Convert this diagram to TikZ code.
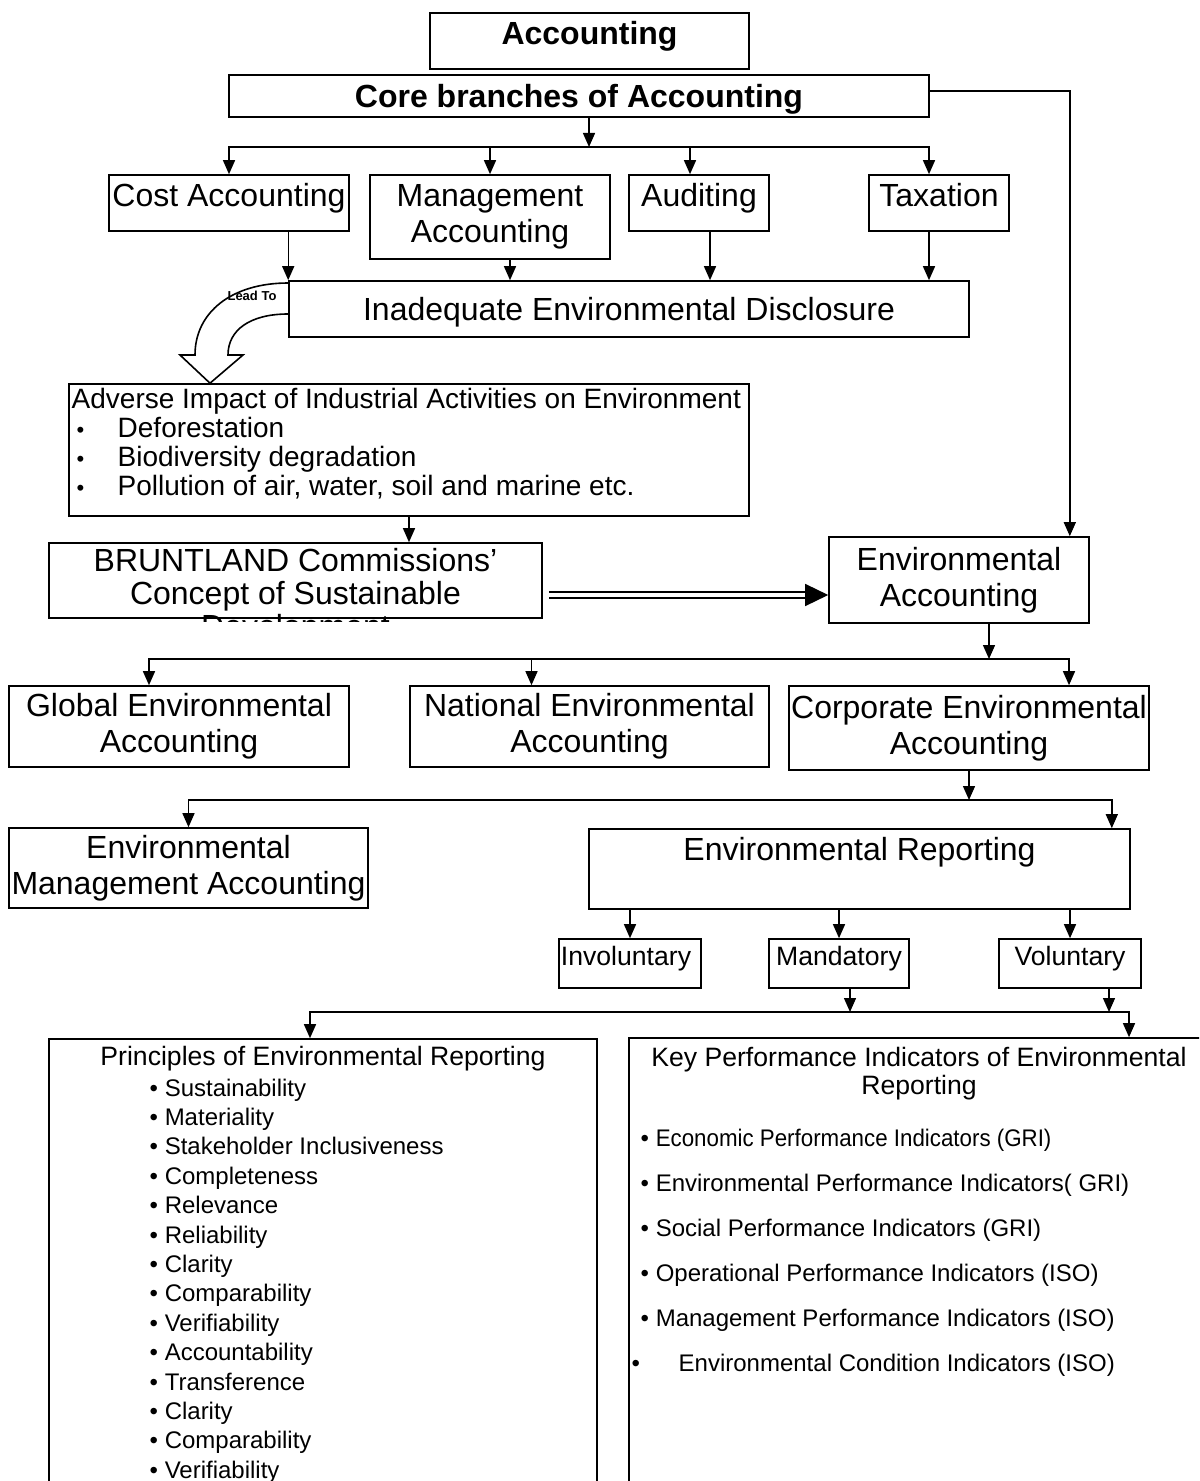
\documentclass[tikz,border=0pt]{standalone}
\usepackage{fontspec}
\setmainfont{Liberation Sans}
\usepackage{graphicx}
\usetikzlibrary{arrows.meta}

\begin{document}
\begin{tikzpicture}[x=0.5pt, y=-0.5pt, line width=0.7pt,
    box/.style={draw, line width=0.8pt, inner sep=1pt},
    big/.style={font=\fontsize{16}{18}\selectfont},
    bigb/.style={font=\bfseries\fontsize{16}{18}\selectfont},
    mid/.style={font=\fontsize{13.3}{14}\selectfont},
    arr/.style={-{Triangle[length=7pt,width=6pt]}}]
    \useasboundingbox (0,0) rectangle (1199,1481);
    \clip (0,0) rectangle (1199,1481);

    % top of the chart
    \node[box, bigb, minimum width=159.5pt, minimum height=28pt, text height=11.5pt, text depth=8pt] (acc) at (589.5,41) {Accounting};
    \node[box, bigb, minimum width=350pt, minimum height=21pt, text height=11.5pt, text depth=0pt] (core) at (579,96) {Core branches of Accounting};

    % core branches
    \node[box, big, minimum width=120pt, minimum height=28pt, text height=11.5pt, text depth=7.5pt] (cost) at (229,203) {Cost Accounting};
    \node[box, big, align=center, minimum width=120pt, minimum height=42pt] (mgmt) at (490,217) {Management\\Accounting};
    \node[box, big, minimum width=70pt, minimum height=28pt, text height=11.5pt, text depth=7.5pt] (aud) at (699,203) {Auditing};
    \node[box, big, minimum width=70pt, minimum height=28pt, text height=11.5pt, text depth=7.5pt] (tax) at (939,203) {Taxation};
    \node[box, big, minimum width=340pt, minimum height=28pt, text height=11.5pt, text depth=0pt] (inad) at (629,309) {Inadequate Environmental Disclosure};

    % impact and sustainability
    \node[box, minimum width=340pt, minimum height=66pt] (adv) at (409,450) {};
    \node[anchor=north west, inner sep=0pt, align=left, font=\fontsize{14}{14.5}\selectfont] (advt) at (71,388)
        {Adverse Impact of Industrial Activities on Environment\\
         \hspace*{2.5pt}\makebox[20.5pt][l]{\fontsize{11}{11}\selectfont\textbullet}Deforestation\\
         \hspace*{2.5pt}\makebox[20.5pt][l]{\fontsize{11}{11}\selectfont\textbullet}Biodiversity degradation\\
         \hspace*{2.5pt}\makebox[20.5pt][l]{\fontsize{11}{11}\selectfont\textbullet}Pollution of air, water, soil and marine etc.};
    \node[box, minimum width=246.5pt, minimum height=37.5pt] (brunt) at (295.5,580.5) {};
    \begin{scope}
        \clip ([xshift=-2pt]brunt.north west) rectangle ([xshift=2pt,yshift=-1.5pt]brunt.south east);
        \node[anchor=north, inner sep=0pt, align=center, font=\fontsize{16}{16.5}\selectfont] (bruntt) at ([yshift=-2.5pt]brunt.north)
            {BRUNTLAND Commissions’\\Concept of Sustainable\\Development};
    \end{scope}
    \node[box, big, align=center, minimum width=130pt, minimum height=43pt] (envacc) at (959,580) {Environmental\\Accounting};

    % kinds of environmental accounting
    \node[box, big, align=center, minimum width=170pt, minimum height=40.5pt] (glob) at (179,726.5) {Global Environmental\\Accounting};
    \node[box, big, align=center, minimum width=179.5pt, minimum height=40.5pt] (nat) at (589.5,726.5) {National Environmental\\Accounting};
    \node[box, big, align=center, minimum width=180pt, minimum height=42pt] (corp) at (969,728) {Corporate Environmental\\Accounting};
    \node[box, big, align=center, minimum width=179.5pt, minimum height=40pt] (ema) at (188.5,868) {Environmental\\Management Accounting};
    \node[box, big, minimum width=270.5pt, minimum height=40pt, text height=11.5pt, text depth=20.5pt] (rep) at (859.5,869) {Environmental Reporting};

    \node[box, mid, minimum width=71pt, minimum height=24.5pt, text height=9.5pt, text depth=8pt] (invol) at (630,963.5) {Involuntary\hspace*{4pt}};
    \node[box, mid, minimum width=70pt, minimum height=24.5pt, text height=9.5pt, text depth=8pt] (mand) at (839,963.5) {Mandatory};
    \node[box, mid, minimum width=71pt, minimum height=24.5pt, text height=9.5pt, text depth=8pt] (volu) at (1070,963.5) {Voluntary};

    % principles and indicators
    \node[box, minimum width=274pt, minimum height=245.5pt] (princ) at (323,1284.5) {};
    \node[mid] (princt) at (323,1059) {Principles of Environmental Reporting};
    \node[anchor=north west, inner sep=0pt, align=left, font=\fontsize{12}{14.7}\selectfont] (princl) at (149,1078)
        {\textbullet{} Sustainability\\ \textbullet{} Materiality\\ \textbullet{} Stakeholder Inclusiveness\\
         \textbullet{} Completeness\\ \textbullet{} Relevance\\ \textbullet{} Reliability\\ \textbullet{} Clarity\\
         \textbullet{} Comparability\\ \textbullet{} Verifiability\\ \textbullet{} Accountability\\
         \textbullet{} Transference\\ \textbullet{} Clarity\\ \textbullet{} Comparability\\ \textbullet{} Verifiability};
    \node[box, minimum width=500pt, minimum height=246pt] (kpi) at (1129,1284) {};
    \node[mid, anchor=north, inner sep=0pt, align=center] (kpit) at (919,1047) {Key Performance Indicators of Environmental\\Reporting};
    \node[anchor=north west, inner sep=0pt, align=left, font=\fontsize{12}{22.5}\selectfont] (kpil) at (640,1128)
        {\textbullet{} \scalebox{0.93}[1]{Economic Performance Indicators (GRI)}\\
         \textbullet{} Environmental Performance Indicators( GRI)\\
         \textbullet{} Social Performance Indicators (GRI)\\
         \textbullet{} Operational Performance Indicators (ISO)\\
         \textbullet{} Management Performance Indicators (ISO)\\
         \hspace*{-4.5pt}\makebox[23.5pt][l]{\textbullet}Environmental Condition Indicators (ISO)};

    % connectors
    \coordinate (j1) at (589,147);
    \draw[arr] (core.south -| j1) -- (j1);
    \draw[arr] (j1) -| (cost.north);
    \draw[arr] (j1) -| ([xshift=-5pt]tax.north);
    \draw[arr] (mgmt.north |- j1) -- (mgmt.north);
    \draw[arr] ([xshift=-4.5pt]aud.north |- j1) -- ([xshift=-4.5pt]aud.north);

    \draw[arr] (cost.south -| inad.north west) -- (inad.north west);
    \draw[arr] ([xshift=10pt]mgmt.south) -- ([xshift=10pt]mgmt.south |- inad.north);
    \draw[arr] ([xshift=5.5pt]aud.south) -- ([xshift=5.5pt]aud.south |- inad.north);
    \draw[arr] ([xshift=-5pt]tax.south) -- ([xshift=-5pt]tax.south |- inad.north);

    \draw[line width=0.8pt] (inad.north west |- 0,283) .. controls (232,283) and (195,312) .. (195,355)
        -- (180,355) -- (210,0 |- adv.north) -- (243,355) -- (228,355)
        .. controls (228,330) and (250,314) .. (inad.north west |- 0,314);
    \node[font=\bfseries\fontsize{6.5}{7}\selectfont, inner sep=0pt] (lead) at (252,296) {Lead To};

    \draw[arr] (adv.south) -- (adv.south |- brunt.north);
    \coordinate (dtip) at ([yshift=-7.5pt]envacc.west);
    \draw[double, double distance=2pt, line width=0.9pt] ([xshift=3pt]brunt.east |- dtip) -- ([xshift=-11pt]dtip);
    \draw[-{Triangle[length=11.5pt,width=11pt]}] ([xshift=-11.5pt]dtip) -- (dtip);
    \draw[arr] ([yshift=2.5pt]core.east) -| ([xshift=-10pt]envacc.north east);

    \coordinate (j3) at (989,659);
    \draw[arr] (j3 |- envacc.south) -- (j3);
    \draw[arr] (j3) -| ([xshift=-15pt]glob.north);
    \draw[arr] (j3) -| ([xshift=50pt]corp.north);
    \draw[arr] ([xshift=-29pt]nat.north |- j3) -- ([xshift=-29pt]nat.north);

    \coordinate (j4) at (969,800);
    \draw[arr] (corp.south) -- (j4);
    \draw[arr] (j4) -| (ema.north);
    \draw[arr] (j4) -| ([xshift=-9.5pt]rep.north east);

    \draw[arr] (rep.south -| invol.north) -- (invol.north);
    \draw[arr] (rep.south -| mand.north) -- (mand.north);
    \draw[arr] (rep.south -| volu.north) -- (volu.north);

    \coordinate (j5) at (850,1012);
    \coordinate (j6) at (1109,1012);
    \draw[arr] (j5 |- mand.south) -- (j5);
    \draw[arr] (j6 |- volu.south) -- (j6);
    \draw[arr] (j5) -| ([xshift=-6.5pt]princ.north);
    \draw[arr] (j5) -| (kpi.north);
\end{tikzpicture}
\end{document}
